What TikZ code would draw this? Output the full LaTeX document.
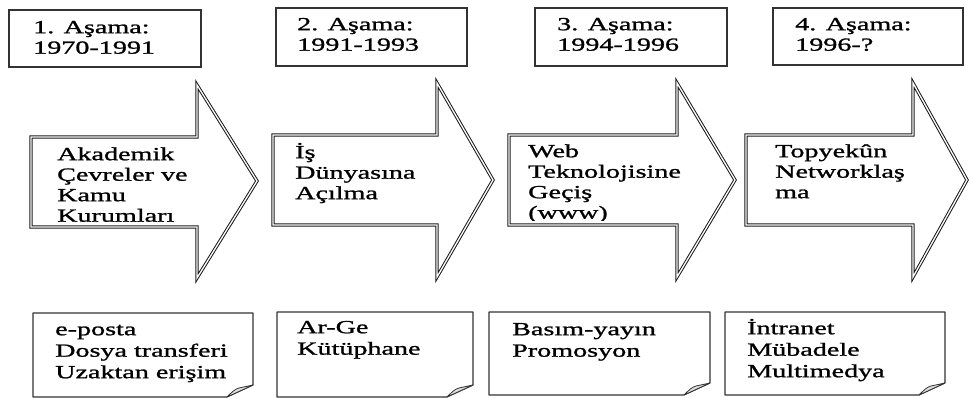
\documentclass[tikz,border=0pt]{standalone}
\usepackage{fontspec}
\setmainfont{Liberation Serif}[FakeStretch=1.52,FakeBold=1.2]
% first-line strut so every label's top sits a fixed 16pt above its first baseline
\newcommand{\topline}{\rule{0pt}{16pt}}
\begin{document}
\begin{tikzpicture}[x=1pt,y=-1pt,
  stagebox/.style={draw=black!80, line width=1.3pt, fill=white},
  phasearrow/.style={draw=black!90, line width=1pt, double=white, double distance=1.3pt, line join=miter},
  label/.style={anchor=north west, inner sep=0pt, align=left, text=black,
                font=\fontsize{18.5}{20.5}\selectfont},
  notelabel/.style={label, font=\fontsize{18.5}{21.5}\selectfont},
  note/.style={draw=black!80, line width=1.1pt, fill=white, line join=round},
  flap/.style={draw=black!80, line width=0.8pt, fill=gray!25, line join=round}]
\useasboundingbox (0,0) rectangle (971,398);

% ---- stage headers ----
\draw[stagebox] (9,10) rectangle (201,67);
\draw[stagebox] (276,8) rectangle (467,66);
\draw[stagebox] (535,8) rectangle (727,66);
\draw[stagebox] (773,8) rectangle (963,65);
\node[label] (h1) at (33,17) {\topline 1. Aşama:\\1970-1991};
\node[label] (h2) at (297,14) {\topline 2. Aşama:\\1991-1993};
\node[label] (h3) at (557,14) {\topline 3. Aşama:\\1994-1996};
\node[label] (h4) at (795,14) {\topline 4. Aşama:\\1996-?};

% ---- block arrows ----
\draw[phasearrow, fill=white] (31,137) -- (197,137) -- (197,85) -- (257,181)
  -- (197,278) -- (197,227) -- (31,227) -- cycle;
\draw[phasearrow, fill=white] (273,135) -- (437,135) -- (437,83) -- (493,180)
  -- (437,277) -- (437,225) -- (273,225) -- cycle;
\draw[phasearrow, fill=white] (509,135) -- (677,135) -- (677,83) -- (735,180)
  -- (677,277) -- (677,225) -- (509,225) -- cycle;
\draw[phasearrow, fill=white] (746,135) -- (913,135) -- (913,83) -- (967,180)
  -- (913,277) -- (913,225) -- (746,225) -- cycle;

\node[label] (a1) at (57,144) {\topline Akademik\\Çevreler ve\\Kamu\\Kurumları};
\node[label] (a2) at (295,142) {\topline İş\\Dünyasına\\Açılma};
\begin{scope}
  % the last line sits on the arrow's lower edge and is cut there
  \clip (512,138) rectangle (735,220);
  \node[label] (a3) at (528,141) {\topline Web\\Teknolojisine\\Geçiş\\(www)};
\end{scope}
\node[label] (a4) at (775,141) {\topline Topyekûn\\Networklaş\\ma};

% ---- notes with a folded corner ----
\foreach \L/\T/\R/\B in {33/313/253/397, 277/312/473/397, 489/312/710/395, 725/312/945/395}{
  \draw[note] (\L,\T) -- (\R,\T) -- (\R,\B-12) -- (\R-26,\B) -- (\L,\B) -- cycle;
  \draw[flap] (\R-26,\B) .. controls (\R-21,\B-5) and (\R-18,\B-8) .. (\R-14,\B-9)
    -- (\R,\B-12) -- cycle;
}
\node[notelabel] (n1) at (55,319) {\topline e-posta\\Dosya transferi\\Uzaktan erişim};
\node[notelabel] (n2) at (297,317) {\topline Ar-Ge\\Kütüphane};
\node[notelabel] (n3) at (512,319) {\topline Basım-yayın\\Promosyon};
\node[notelabel] (n4) at (747,318) {\topline İntranet\\Mübadele\\Multimedya};
\end{tikzpicture}
\end{document}
